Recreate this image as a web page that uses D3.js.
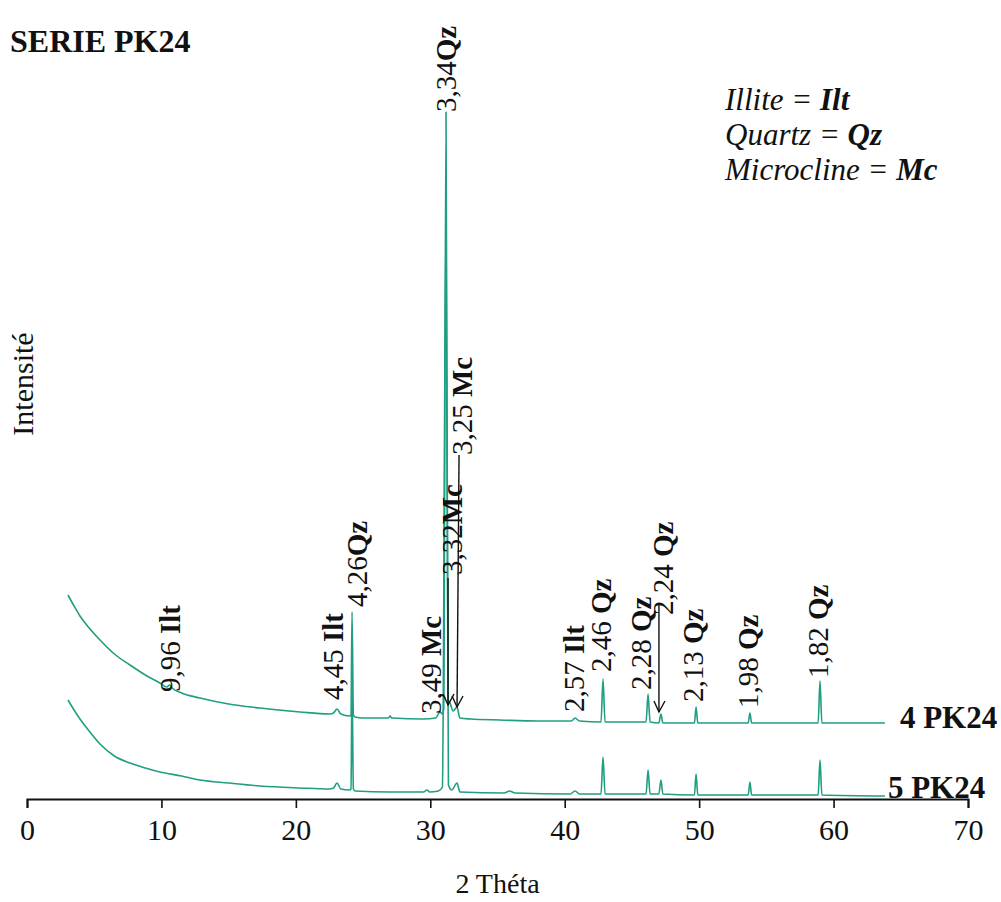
<!DOCTYPE html>
<html>
<head>
<meta charset="utf-8">
<script src="https://cdn.jsdelivr.net/npm/d3@7"></script>
<style>
  html, body { margin: 0; padding: 0; background: #fff; }
  svg text { font-family: "Liberation Serif", "Times New Roman", serif; fill: #111; }
</style>
</head>
<body>
<svg id="chart" width="1001" height="902"></svg>
<script>
// ---------- DATA ----------
const xTicks = [0, 10, 20, 30, 40, 50, 60, 70];

// Sample 4 PK24 (upper trace, offset) : 2θ and intensity
const theta4 = [3.05,3.5,3.94,4.5,5.43,6.5,7.66,8.8,9.89,10.4,10.6,10.8,11.5,12.87,15,17.33,20.31,22.5,22.8,23.06,23.35,24.0,24.1,24.18,24.28,24.4,25,26.9,27.0,27.15,29.5,30.4,30.72,30.9,31.0,31.17,31.32,31.47,31.7,31.99,32.2,33,35.19,38,40.5,40.77,41.1,42.7,42.85,43.0,46.05,46.2,46.35,47.0,47.16,47.3,49.65,49.77,49.9,53.65,53.78,53.9,58.85,58.99,59.13,63.82];
const inten4 = [204,193,183,173,159,145,134,124,116,112,114,111,106,101,95,91,87,85,86,90,85,83,84,187,84,82,81,81,83,81,80,81,87,85,90,687,100,96,88,92,81,80,79,78,78,81,78,77,120,77,77,105,77,76,85,76,76,92,76,76,86,76,76,118,76,76];

// Sample 5 PK24 (lower trace)
const theta5 = [3.05,3.5,3.94,4.5,5.43,6.5,7.66,8.8,9.89,11.5,12.87,15,17.33,20.31,22.5,22.8,23.06,23.35,24.0,24.1,24.18,24.28,24.4,27,29.5,29.75,29.95,30.6,30.9,31.17,31.35,31.6,31.99,32.2,35.5,35.9,36.3,40.4,40.77,41.1,42.7,42.85,43.0,46.05,46.2,46.35,47.0,47.16,47.3,49.65,49.77,49.9,53.65,53.78,53.9,58.85,58.99,59.13,63.82];
const inten5 = [99,89,80,70,55,43,36,31,27,23,19,16,13,11,10,11,16,10,9,10,115,10,8,7,7,9,7,8,12,580,14,9,16,7,6,8,6,5,8,5,5,42,5,5,29,5,5,19,5,4,25,4,4,17,4,4,39,4,3];

const seriesNames = ["4 PK24", "5 PK24"];

// Peak labels: d-spacing, mineral, anchor 2θ, anchor intensity (label bottom), separator
const labelNums   = ["9,96", "4,45", "4,26", "3,49", "3,34", "3,32", "3,25", "2,57", "2,46", "2,28", "2,24", "2,13", "1,98", "1,82"];
const labelMins   = ["Ilt",  "Ilt",  "Qz",   "Mc",   "Qz",   "Mc",   "Mc",   "Ilt",  "Qz",   "Qz",   "Qz",   "Qz",   "Qz",   "Qz"];
const labelSep    = [" ",    " ",    "",     " ",    "",     "",     " ",    " ",    " ",    " ",    " ",    " ",    " ",    " "];
const labelTheta  = [10.64, 22.76, 24.55, 30.05, 31.17, 31.62, 32.36, 40.69, 42.7, 45.67, 47.3, 49.54, 53.63, 58.84];
const labelInten  = [107,   99,    192,   85,    687,   224,   344,   87,    127,   109,   184,   97,    91,    121];

// Arrows: 2θ top, intensity top, 2θ tip, intensity tip
const arrowTheta0 = [31.32, 32.14, 47.01];
const arrowInt0   = [221,   344,   194];
const arrowTheta1 = [31.32, 31.99, 47.01];
const arrowInt1   = [94,    92,    87];

const legendNames = ["Illite", "Quartz", "Microcline"];
const legendAbbr  = ["Ilt", "Qz", "Mc"];

// ---------- CHART ----------
const svg = d3.select("#chart");
const x = d3.scaleLinear().domain([0, 70]).range([27, 968]);
const y = d3.scaleLinear().domain([0, 700]).range([799, 99]);
const green = "#1f9e80";

// Axis
const axis = d3.axisBottom(x).tickValues(xTicks).tickSize(9).tickFormat(d3.format("d"));
const gx = svg.append("g").attr("transform", `translate(0,${y(0)})`).call(axis);
gx.select(".domain").attr("stroke", "#111").attr("stroke-width", 2);
gx.selectAll(".tick line").attr("stroke", "#111").attr("stroke-width", 1.6);
gx.selectAll(".tick text").attr("font-size", 30).attr("dy", "0.95em")
  .style("font-family", '"Liberation Serif", "Times New Roman", serif').attr("fill", "#111");

svg.append("text").attr("x", (x(0) + x(70)) / 2).attr("y", 893)
  .attr("text-anchor", "middle").attr("font-size", 28).text("2 Théta");

svg.append("text").attr("transform", "translate(33,384) rotate(-90)")
  .attr("text-anchor", "middle").attr("font-size", 30).text("Intensité");

svg.append("text").attr("x", 10).attr("y", 52).attr("font-size", 32)
  .attr("font-weight", "bold").text("SERIE PK24");

// Traces
const line = d3.line().x(d => x(d[0])).y(d => y(d[1])).curve(d3.curveMonotoneX);
const tr4 = theta4.map((t, i) => [t, inten4[i]]);
const tr5 = theta5.map((t, i) => [t, inten5[i]]);
[tr5, tr4].forEach(tr => {
  svg.append("path").datum(tr).attr("d", line)
    .attr("fill", "none").attr("stroke", green).attr("stroke-width", 1.6)
    .attr("stroke-linejoin", "round");
});

// Series labels
svg.append("text").attr("x", x(theta4[theta4.length - 1]) + 15).attr("y", y(inten4[inten4.length - 1]) + 5)
  .attr("font-size", 31).attr("font-weight", "bold").text(seriesNames[0]);
svg.append("text").attr("x", x(theta5[theta5.length - 1]) + 3).attr("y", y(inten5[inten5.length - 1]) + 2)
  .attr("font-size", 31).attr("font-weight", "bold").text(seriesNames[1]);

// Peak labels (rotated)
labelNums.forEach((n, i) => {
  const t = svg.append("text")
    .attr("transform", `translate(${x(labelTheta[i])},${y(labelInten[i])}) rotate(-90)`)
    .attr("dy", "0.35em").attr("font-size", 29);
  t.append("tspan").text(n + labelSep[i]);
  t.append("tspan").attr("font-weight", "bold").text(labelMins[i]);
});

// Arrows
arrowTheta0.forEach((t0, i) => {
  const x0 = x(t0), y0 = y(arrowInt0[i]), x1 = x(arrowTheta1[i]), y1 = y(arrowInt1[i]);
  svg.append("line").attr("x1", x0).attr("y1", y0).attr("x2", x1).attr("y2", y1)
    .attr("stroke", "#111").attr("stroke-width", 1.4);
  svg.append("path").attr("d", `M${x1 - 5},${y1 - 11} L${x1},${y1} L${x1 + 6},${y1 - 11}`)
    .attr("fill", "none").attr("stroke", "#111").attr("stroke-width", 1.4);
});

// Legend
legendNames.forEach((n, i) => {
  const t = svg.append("text").attr("x", 725).attr("y", 110 + i * 35)
    .attr("font-size", 31).attr("font-style", "italic");
  t.append("tspan").text(n + " = ");
  t.append("tspan").attr("font-weight", "bold").text(legendAbbr[i]);
});
</script>
</body>
</html>
